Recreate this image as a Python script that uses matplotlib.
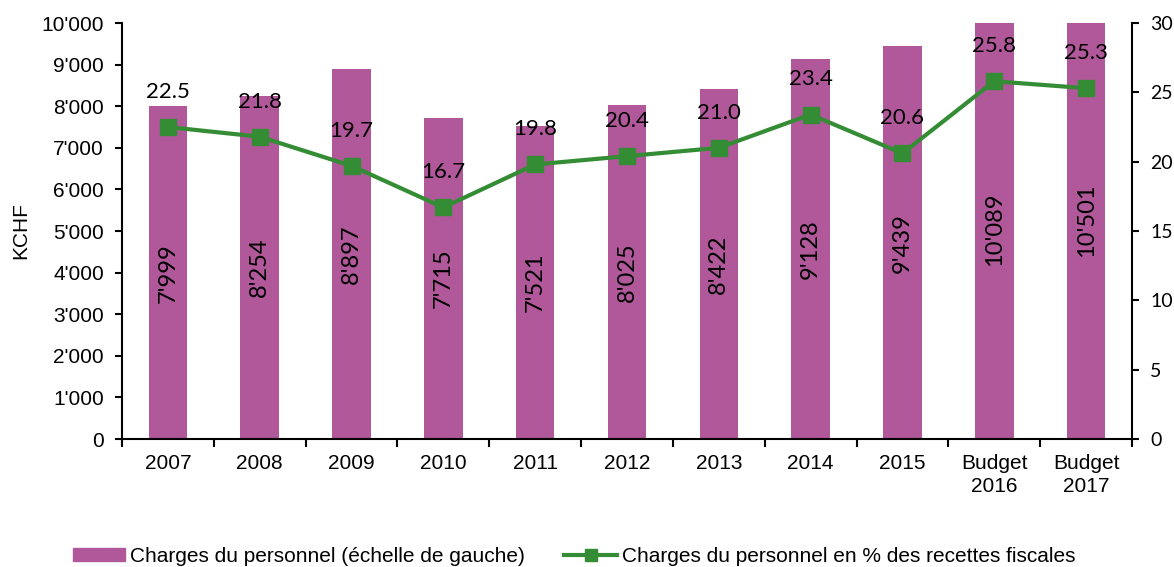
import matplotlib
matplotlib.use("Agg")
import matplotlib.pyplot as plt
import numpy as np
from matplotlib.ticker import FuncFormatter
from matplotlib.patches import Patch
from matplotlib.lines import Line2D

categories = ["2007", "2008", "2009", "2010", "2011", "2012", "2013", "2014", "2015", "Budget\n2016", "Budget\n2017"]
charges = [7999, 8254, 8897, 7715, 7521, 8025, 8422, 9128, 9439, 10089, 10501]
pct = [22.5, 21.8, 19.7, 16.7, 19.8, 20.4, 21.0, 23.4, 20.6, 25.8, 25.3]

bar_color = "#B0589A"
line_color = "#348C34"
ARIAL = "Liberation Sans"
CAL = "Lato"

fig = plt.figure(figsize=(11.74, 5.67), dpi=100)
ax = fig.add_axes([0.1039, 0.2257, 0.8603, 0.7337])
x = np.arange(len(categories))

ax.bar(x, charges, width=0.42, color=bar_color, zorder=2)
ax.set_xlim(-0.5, len(categories) - 0.5)
ax.set_ylim(0, 10000)
ax.set_yticks(np.arange(0, 10001, 1000))
ax.yaxis.set_major_formatter(FuncFormatter(lambda v, p: f"{int(v):,}".replace(",", "'")))
ax.set_xticks(x)
ax.set_xticklabels(categories, fontsize=15, family=ARIAL, linespacing=1.25)
ax.set_xticks(np.arange(-0.5, len(categories), 1), minor=True)
ax.tick_params(axis="x", which="major", length=0, pad=11)
ax.tick_params(axis="x", which="minor", length=6, width=1.5, direction="out")
ax.tick_params(axis="y", length=5, width=1.5, direction="out", labelsize=15, pad=8)
for lab in ax.get_yticklabels():
    lab.set_family(ARIAL)
ax.set_ylabel("KCHF", fontsize=15, family=ARIAL, labelpad=8)
for s in ["top", "right"]:
    ax.spines[s].set_visible(False)
ax.spines["left"].set_linewidth(1.5)
ax.spines["bottom"].set_linewidth(1.5)

for xi, v in zip(x, charges):
    ax.text(xi, v / 2, f"{v:,}".replace(",", "'"), rotation=90, ha="center", va="center",
            fontsize=17, family=CAL, color="black", zorder=4)

ax2 = ax.twinx()
ax2.set_ylim(0, 30)
ax2.set_yticks(np.arange(0, 31, 5))
ax2.plot(x, pct, color=line_color, lw=3, marker="s", markersize=11.5, zorder=3)
ax2.tick_params(axis="y", length=5, width=1.5, direction="out", labelsize=14, pad=8)
for lab in ax2.get_yticklabels():
    lab.set_family(CAL)
for s in ["top", "left", "bottom"]:
    ax2.spines[s].set_visible(False)
ax2.spines["right"].set_linewidth(1.5)

for xi, v in zip(x, pct):
    ax2.annotate(f"{v:.1f}", (xi, v), xytext=(0, 21), textcoords="offset points",
                 ha="center", va="baseline", fontsize=16, family=CAL)

handles = [Patch(color=bar_color),
           Line2D([0], [0], color=line_color, lw=3, marker="s", markersize=9)]
labels = ["Charges du personnel (échelle de gauche)", "Charges du personnel en % des recettes fiscales"]
fig.legend(handles, labels, loc="center", bbox_to_anchor=(574 / 1174, 1 - 556 / 567), ncol=2, frameon=False,
           prop={"family": ARIAL, "size": 15}, columnspacing=1.9, handlelength=2.5,
           handletextpad=0.25, handleheight=0.6)

fig.savefig("out.png", dpi=100)
